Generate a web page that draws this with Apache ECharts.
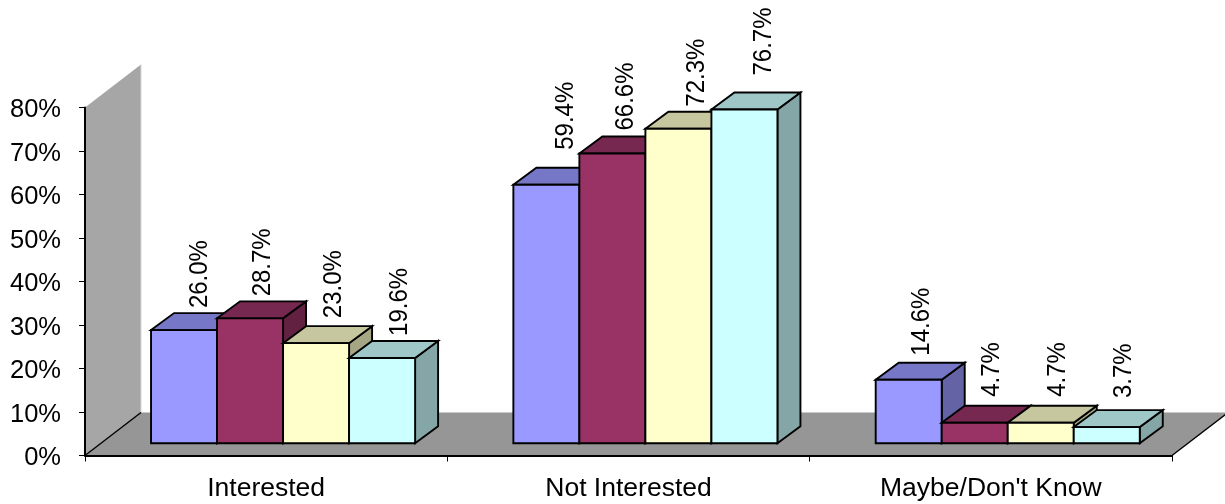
<!DOCTYPE html>
<html>
<head>
<meta charset="utf-8">
<style>html,body{margin:0;padding:0;background:#fff}#c{width:1225px;height:504px}</style>
<script src="https://cdn.jsdelivr.net/npm/echarts@6/dist/echarts.min.js"></script>
</head>
<body>
<div id="c"></div>
<script>
const categories = ['Interested', 'Not Interested', "Maybe/Don't Know"];
const seriesA = [26.0, 59.4, 14.6];
const seriesB = [28.7, 66.6, 4.7];
const seriesC = [23.0, 72.3, 4.7];
const seriesD = [19.6, 76.7, 3.7];
const yTicks = [0, 80, 10];

// layout / styling, separate from the values
const allValues = [seriesA, seriesB, seriesC, seriesD];
const frontColors = ['#9999FF', '#993366', '#FFFFCC', '#CCFFFF'];
const topColors   = ['#7777C7', '#772850', '#C7C79F', '#9FC7C7'];
const sideColors  = ['#6363A6', '#632142', '#A6A685', '#85A6A6'];
const labelXNudge = [[49,52,46],[46,46,50],[51,51,50],[51,52,50]];
const labelLift   = [[22,35,24],[22,23,26],[25,22,26],[22,34,29]];
const FLOOR_DX = 56, FLOOR_DY = 43;
const BAR_DX = 23, BAR_DY = 17, BAR_W_RATIO = 0.1822;
const INK = '#000';
const FONT = '24px "Liberation Sans", Arial, sans-serif';

function renderRoom(params, api) {
  const catW = api.size([1, 0])[0];
  const o = api.coord([0, 0]);
  const t = api.coord([0, yTicks[1]]);
  const x0 = o[0] - catW / 2, y0 = o[1], yTop = t[1];
  const x1 = x0 + catW * categories.length;
  return { type: 'group', children: [
    { type: 'polygon', shape: { points: [[x0, yTop], [x0 + FLOOR_DX, yTop - FLOOR_DY], [x0 + FLOOR_DX, y0 - FLOOR_DY], [x0, y0]] },
      style: { fill: '#A6A6A6', stroke: null } },
    { type: 'line', shape: { x1: x0 + FLOOR_DX, y1: yTop - FLOOR_DY, x2: x0 + FLOOR_DX, y2: y0 - FLOOR_DY },
      style: { stroke: '#D8D8D8', lineWidth: 1 } },
    { type: 'polygon', shape: { points: [[x0, y0], [x0 + FLOOR_DX, y0 - FLOOR_DY], [x1 + FLOOR_DX, y0 - FLOOR_DY], [x1, y0]] },
      style: { fill: '#969696', stroke: null } },
    { type: 'line', shape: { x1: x0, y1: y0, x2: x0 + FLOOR_DX, y2: y0 - FLOOR_DY },
      style: { stroke: INK, lineWidth: 1.4 } },
    { type: 'line', shape: { x1: x1, y1: y0, x2: x1 + FLOOR_DX, y2: y0 - FLOOR_DY },
      style: { stroke: INK, lineWidth: 1.4 } }
  ]};
}

function makeRenderBar(s) {
  return function (params, api) {
    const cat = api.value(0), val = api.value(1);
    const catW = api.size([1, 0])[0];
    const barW = catW * BAR_W_RATIO;
    const base = api.coord([cat, 0]);
    const top = api.coord([cat, val]);
    const shiftX = (FLOOR_DX - BAR_DX) / 2 + 0.4, shiftY = (FLOOR_DY - BAR_DY) / 2 - 0.7;
    const left = base[0] + shiftX - 2 * barW + s * barW;
    const right = left + barW;
    const yb = base[1] - shiftY, yt = top[1] - shiftY;
    const edge = { stroke: INK, lineWidth: 1.9, lineJoin: 'miter' };
    return { type: 'group', children: [
      { type: 'polygon', shape: { points: [[right, yb], [right + BAR_DX, yb - BAR_DY], [right + BAR_DX, yt - BAR_DY], [right, yt]] },
        style: Object.assign({ fill: sideColors[s] }, edge) },
      { type: 'polygon', shape: { points: [[left, yt], [left + BAR_DX, yt - BAR_DY], [right + BAR_DX, yt - BAR_DY], [right, yt]] },
        style: Object.assign({ fill: topColors[s] }, edge) },
      { type: 'rect', shape: { x: left, y: yt, width: barW, height: yb - yt },
        style: Object.assign({ fill: frontColors[s] }, edge) },
      { type: 'text', x: left + labelXNudge[s][cat], y: yt - labelLift[s][cat], rotation: Math.PI / 2, scaleY: 1.1,
        style: { text: val.toFixed(1) + '%', font: FONT, fill: '#000', align: 'left', verticalAlign: 'middle' } }
    ]};
  };
}

const names = ['Series A', 'Series B', 'Series C', 'Series D'];
const barSeries = allValues.map((vals, s) => ({
  type: 'custom', name: names[s], coordinateSystem: 'cartesian2d', z: 3 + s, silent: true, clip: false,
  renderItem: makeRenderBar(s),
  encode: { x: 0, y: 1 },
  data: vals.map((v, i) => [i, v])
}));

const chart = echarts.init(document.getElementById('c'), null, { renderer: 'canvas' });
chart.setOption({
  animation: false,
  backgroundColor: '#fff',
  grid: { left: 85, right: 53, top: 107.5, bottom: 48.5, containLabel: false },
  xAxis: {
    type: 'category', data: categories, z: 10,
    axisLine: { lineStyle: { color: '#000', width: 2 } },
    axisTick: { show: true, alignWithLabel: false, length: 6, lineStyle: { color: '#000', width: 1 } },
    axisLabel: { color: '#000', fontSize: 26.5, fontFamily: '"Liberation Sans", Arial, sans-serif', margin: 20, interval: 0 },
    splitLine: { show: false }
  },
  yAxis: {
    type: 'value', min: yTicks[0], max: yTicks[1], interval: yTicks[2], z: 10,
    axisLine: { show: true, lineStyle: { color: '#000', width: 2 } },
    axisTick: { show: true, length: 6, lineStyle: { color: '#000', width: 1 } },
    axisLabel: { color: '#000', fontSize: 25.5, fontFamily: '"Liberation Sans", Arial, sans-serif', margin: 24, verticalAlign: 'top', lineHeight: 5, formatter: '{value}%' },
    splitLine: { show: false }
  },
  series: [{
    type: 'custom', name: 'room', coordinateSystem: 'cartesian2d', z: 1, silent: true, clip: false,
    renderItem: renderRoom, data: [[0, 0]]
  }].concat(barSeries)
});
</script>
</body>
</html>
